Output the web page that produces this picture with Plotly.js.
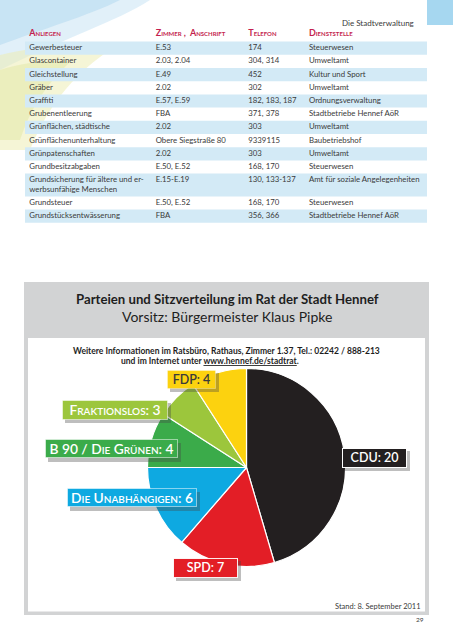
<!DOCTYPE html>
<html><head><meta charset="utf-8">
<script src="https://cdn.plot.ly/plotly-3.0.1.min.js"></script>
<style>html,body{margin:0;padding:0;background:#fff}#chart{width:453px;height:640px}</style>
</head><body><div id="chart"></div>
<script>
// ---------- table data ----------
const colHeaders = ['Anliegen', 'Zimmer ,  Anschrift', 'Telefon', 'Dienststelle'];
const anliegen = ['Gewerbesteuer', 'Glascontainer', 'Gleichstellung', 'Gräber', 'Graffiti', 'Grubenentleerung',
  'Grünflächen, städtische', 'Grünflächenunterhaltung', 'Grünpatenschaften', 'Grundbesitzabgaben',
  'Grundsicherung für ältere und er-<br>werbsunfähige Menschen', 'Grundsteuer', 'Grundstücksentwässerung'];
const zimmer = ['E.53', '2.03, 2.04', 'E.49', '2.02', 'E.57, E.59', 'FBA', '2.02', 'Obere Siegstraße 80', '2.02',
  'E.50, E.52', 'E.15-E.19', 'E.50, E.52', 'FBA'];
const telefon = ['174', '304, 314', '452', '302', '182, 183, 187', '371, 378', '303', '9339115', '303',
  '168, 170', '130, 133-137', '168, 170', '356, 366'];
const dienststelle = ['Steuerwesen', 'Umweltamt', 'Kultur und Sport', 'Umweltamt', 'Ordnungsverwaltung',
  'Stadtbetriebe Hennef AöR', 'Umweltamt', 'Baubetriebshof', 'Umweltamt', 'Steuerwesen',
  'Amt für soziale Angelegenheiten', 'Steuerwesen', 'Stadtbetriebe Hennef AöR'];

// ---------- pie data ----------
const parteien = ['CDU', 'SPD', 'Die Unabhängigen', 'B 90 / Die Grünen', 'Fraktionslos', 'FDP'];
const sitze = [20, 7, 6, 4, 3, 4];

// ---------- styles / layout ----------
const W = 453, H = 640;
const FONT = 'Lato, "Open Sans", sans-serif';
const stripe = '#d3eaf6';
const headRed = '#c41f4f';
const txt = '#3a3a3a';
const tableX0 = 25, tableX1 = 427;
const colTextX = [29.3, 155.7, 248.3, 309];
const headerY = 34;
const rowTop0 = 41.6, rowH = 13.2, lineStep = 9.6;

const partyColors = ['#231f20', '#e31e26', '#0ea9e1', '#3bab4a', '#9cc63c', '#fcd20f'];
const partyTextColors = ['#ffffff', '#ffffff', '#ffffff', '#ffffff', '#ffffff', '#3a3a3a'];
const partyBorder = ['#ffffff', 'rgba(255,255,255,0.9)', 'rgba(255,255,255,0.5)', 'rgba(255,255,255,0.5)', 'rgba(255,255,255,0.5)', 'rgba(255,255,255,0.3)'];
const labelFontSize = [12.5, 12.5, 13.8, 13.8, 13.8, 12.5];
// label boxes: [centerX, centerY, width, height] in page pixels
const labelBoxes = [
  [374.5, 457.8, 65, 19.5],
  [205.3, 567.9, 65, 19.5],
  [131.7, 497.8, 130, 19],
  [111.7, 448.8, 133, 19],
  [115, 409.7, 106, 19.5],
  [191, 379.2, 49, 18.5]
];

const shapes = [
  // decorative background swoosh
  {type: 'path', xref: 'x', yref: 'y', layer: 'below', line: {width: 0}, fillcolor: 'rgba(200,228,244,0.55)',
    path: 'M0,0 L150,0 C120,20 60,40 0,70 Z'},
  {type: 'path', xref: 'x', yref: 'y', layer: 'below', line: {width: 0}, fillcolor: 'rgba(175,215,240,0.5)',
    path: 'M0,0 L120,0 C90,15 40,30 0,45 Z'},
  {type: 'path', xref: 'x', yref: 'y', layer: 'below', line: {width: 0}, fillcolor: 'rgba(236,236,180,0.55)',
    path: 'M0,55 C40,45 80,45 110,50 C80,70 50,100 30,150 L0,150 Z'},
  {type: 'path', xref: 'x', yref: 'y', layer: 'below', line: {width: 0}, fillcolor: 'rgba(225,230,160,0.45)',
    path: 'M0,70 C25,62 50,60 70,62 C45,85 30,110 20,140 L0,140 Z'},
  // top-right tab
  {type: 'rect', xref: 'x', yref: 'y', layer: 'below', line: {width: 0}, fillcolor: '#a6d7f0', x0: 427, x1: 453, y0: 0, y1: 25},
  // gray frame + header
  {type: 'rect', xref: 'x', yref: 'y', layer: 'below', line: {width: 0}, fillcolor: '#d2d3d4', x0: 24, x1: 429, y0: 282, y1: 615},
  {type: 'rect', xref: 'x', yref: 'y', layer: 'below', line: {width: 0}, fillcolor: '#ffffff', x0: 28, x1: 425, y0: 338, y1: 611.5}
];

// ---------- build table cells from the arrays ----------
const tableCols = [anliegen, zimmer, telefon, dienststelle];
const cellX = [[], [], [], []], cellY = [[], [], [], []], cellT = [[], [], [], []];
let yTop = rowTop0;
anliegen.forEach((a, i) => {
  const parts = tableCols.map(col => col[i].split('<br>'));
  const n = Math.max(...parts.map(p => p.length));
  const h = rowH + (n - 1) * lineStep;
  if (i % 2 === 0) {
    shapes.push({type: 'rect', xref: 'x', yref: 'y', layer: 'below', line: {width: 0}, fillcolor: stripe,
      x0: tableX0, x1: tableX1, y0: yTop, y1: yTop + h});
  }
  parts.forEach((p, c) => p.forEach((line, k) => {
    cellX[c].push(colTextX[c]);
    cellY[c].push(yTop + rowH / 2 + k * lineStep);
    cellT[c].push(line);
  }));
  yTop += h;
});

const traces = [];
// helper trace to establish page-pixel axes
traces.push({type: 'scatter', x: [0, W], y: [0, H], mode: 'markers', marker: {opacity: 0}, hoverinfo: 'skip', showlegend: false});
// header
traces.push({type: 'scatter', mode: 'text', x: colTextX, y: colTextX.map(() => headerY), text: colHeaders,
  textposition: 'middle right', hoverinfo: 'skip', showlegend: false,
  textfont: {family: FONT, size: 9, color: headRed, weight: 700, variant: 'small-caps'}});
// cells
for (let c = 0; c < 4; c++) {
  traces.push({type: 'scatter', mode: 'text', x: cellX[c], y: cellY[c], text: cellT[c],
    textposition: 'middle right', hoverinfo: 'skip', showlegend: false,
    textfont: {family: FONT, size: 7.8, color: txt}});
}
// pie
traces.push({
  type: 'pie', labels: parteien, values: sitze, sort: false, direction: 'clockwise', rotation: 0,
  textinfo: 'none', hoverinfo: 'skip', showlegend: false,
  marker: {colors: partyColors, line: {color: '#ffffff', width: 1.2}},
  domain: {x: [147.5 / W, 345.5 / W], y: [1 - 566.5 / H, 1 - 368.5 / H]}
});

const annotations = [
  {x: 416, y: 22.7, xref: 'x', yref: 'y', xanchor: 'right', yanchor: 'middle', showarrow: false,
    text: 'Die Stadtverwaltung', font: {family: FONT, size: 8, color: '#3a3a3a'}},
  {x: 227, y: 299, xref: 'x', yref: 'y', xanchor: 'center', yanchor: 'middle', showarrow: false,
    text: '<b>Parteien und Sitzverteilung im Rat der Stadt Hennef</b>', font: {family: FONT, size: 13.2, color: '#1e1e1e'}},
  {x: 227, y: 316, xref: 'x', yref: 'y', xanchor: 'center', yanchor: 'middle', showarrow: false,
    text: 'Vorsitz: Bürgermeister Klaus Pipke', font: {family: FONT, size: 14, color: '#1e1e1e'}},
  {x: 226, y: 351, xref: 'x', yref: 'y', xanchor: 'center', yanchor: 'middle', showarrow: false,
    text: '<b>Weitere Informationen im Ratsbüro, Rathaus, Zimmer 1.37, Tel.: 02242 / 888-213</b>',
    font: {family: FONT, size: 8.5, color: '#1e1e1e'}},
  {x: 210, y: 361, xref: 'x', yref: 'y', xanchor: 'center', yanchor: 'middle', showarrow: false,
    text: '<b>und im Internet unter <span style="text-decoration:underline">www.hennef.de/stadtrat</span>.</b>',
    font: {family: FONT, size: 8.5, color: '#1e1e1e'}},
  {x: 423, y: 606.7, xref: 'x', yref: 'y', xanchor: 'right', yanchor: 'middle', showarrow: false,
    text: 'Stand: 8. September 2011', font: {family: FONT, size: 7.5, color: '#3a3a3a'}},
  {x: 426, y: 619, xref: 'x', yref: 'y', xanchor: 'right', yanchor: 'middle', showarrow: false,
    text: '29', font: {family: FONT, size: 6.5, color: '#3a3a3a'}}
];

// label shadows then label boxes (text built from the data arrays)
parteien.forEach((p, i) => {
  const [cx, cy, w, h] = labelBoxes[i];
  annotations.push({x: cx + 3, y: cy + 3.5, xref: 'x', yref: 'y', showarrow: false, text: ' ',
    width: w, height: h, borderpad: 0, borderwidth: 0, bgcolor: 'rgba(70,70,70,0.35)'});
});
parteien.forEach((p, i) => {
  const [cx, cy, w, h] = labelBoxes[i];
  annotations.push({x: cx, y: cy, xref: 'x', yref: 'y', showarrow: false, text: p + ': ' + sitze[i],
    width: w - 2, height: h - 2, borderpad: 0, borderwidth: 1, bordercolor: partyBorder[i],
    bgcolor: partyColors[i], align: 'center', valign: 'middle',
    font: {family: FONT, size: labelFontSize[i], weight: 600, color: partyTextColors[i], variant: 'small-caps'}});
});

const layout = {
  width: W, height: H,
  margin: {l: 0, r: 0, t: 0, b: 0, pad: 0},
  paper_bgcolor: '#ffffff', plot_bgcolor: 'rgba(0,0,0,0)',
  showlegend: false,
  xaxis: {range: [0, W], domain: [0, 1], visible: false, fixedrange: true},
  yaxis: {range: [H, 0], domain: [0, 1], visible: false, fixedrange: true},
  shapes: shapes,
  annotations: annotations
};

Plotly.newPlot('chart', traces, layout, {displayModeBar: false, staticPlot: true});
</script>
</body></html>
